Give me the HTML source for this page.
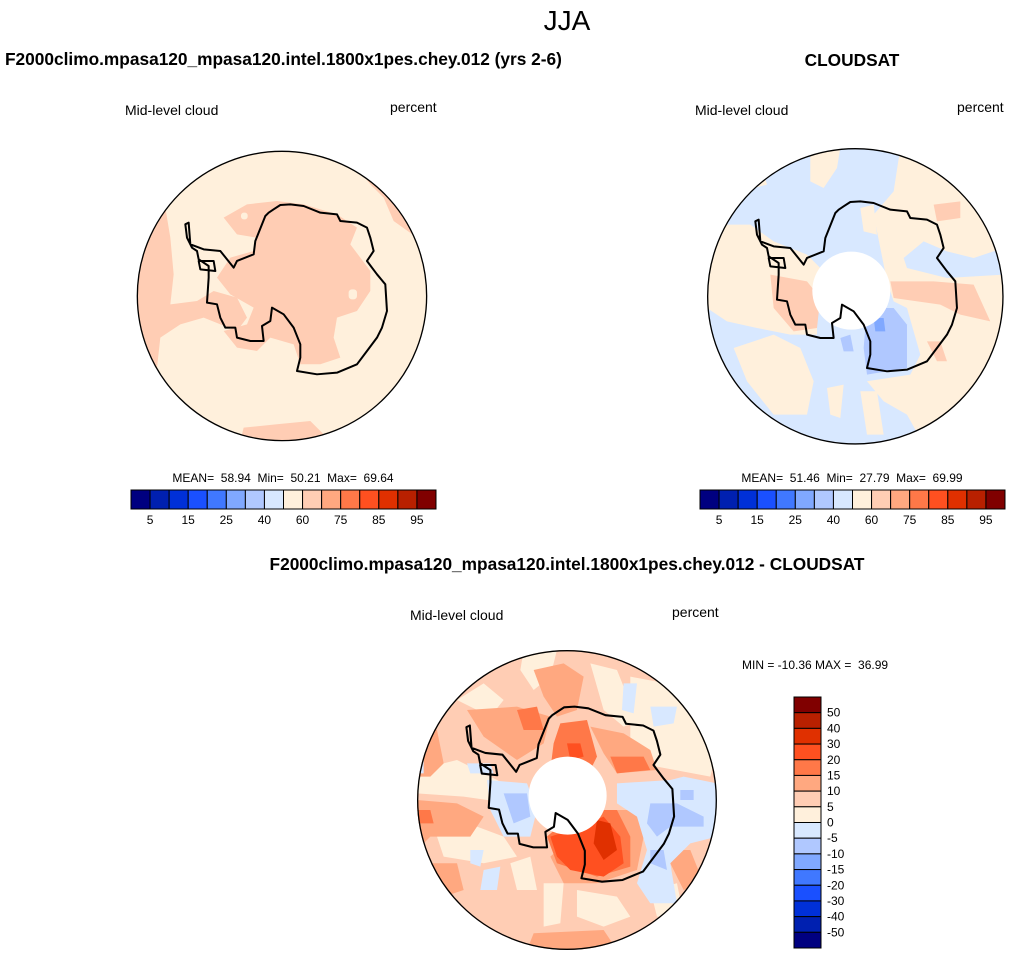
<!DOCTYPE html>
<html><head><meta charset="utf-8">
<style>
body{margin:0;background:#fff;}
svg{display:block;font-family:"Liberation Sans",Arial,sans-serif;}
text{white-space:pre;}
</style></head>
<body>
<svg id="fig" width="1014" height="959" viewBox="0 0 1014 959">
<defs>
  <clipPath id="c1"><circle cx="435" cy="435" r="435"/></clipPath>
  <clipPath id="c2"><circle cx="445" cy="445" r="444"/></clipPath>
  <clipPath id="c3"><circle cx="450" cy="450" r="450"/></clipPath>
  <path id="coast" d="M290,350 L300,330 L350,310 L355,270 L385,195 L395,185 L410,175 L430,162 L460,160 L500,165 L550,185 L600,190 L610,210 L660,215 L690,230 L700,260 L710,300 L690,330 L720,370 L745,400 L750,480 L735,530 L720,560 L690,600 L660,640 L600,665 L540,670 L480,660 L490,620 L490,580 L470,530 L440,490 L405,470 L400,510 L375,525 L380,570 L340,570 L300,560 L295,530 L265,530 L250,500 L240,460 L210,455 L215,380 L215,345 L185,325 L180,300 L165,290 L150,260 L145,220 L155,215 L160,280 L200,295 L250,300 Z M185,330 L230,330 L235,360 L190,355 Z" fill="none" stroke="#000" stroke-width="6" stroke-linejoin="round"/>
</defs>

<text x="567" y="30" font-size="28" text-anchor="middle">JJA</text>
<text x="5" y="65" font-size="17.3" font-weight="bold">F2000climo.mpasa120_mpasa120.intel.1800x1pes.chey.012 (yrs 2-6)</text>
<text x="852" y="66" font-size="17.3" font-weight="bold" text-anchor="middle">CLOUDSAT</text>
<text x="567" y="570" font-size="17.3" font-weight="bold" text-anchor="middle">F2000climo.mpasa120_mpasa120.intel.1800x1pes.chey.012 - CLOUDSAT</text>

<text x="125" y="115" font-size="14">Mid-level cloud</text>
<text x="390" y="112" font-size="14">percent</text>
<text x="695" y="115" font-size="14">Mid-level cloud</text>
<text x="957" y="112" font-size="14">percent</text>
<text x="410" y="620" font-size="14">Mid-level cloud</text>
<text x="672" y="617" font-size="14">percent</text>
<text x="742" y="669" font-size="12">MIN = -10.36 MAX =  36.99</text>

<!-- Panel 1 -->
<g transform="translate(137,151) scale(0.3333)">
  <g clip-path="url(#c1)">
    <rect width="870" height="870" fill="#fff0dc"/>
    <g fill="#ffcdb4">
      <path d="M0,150 L80,140 L100,260 L110,370 L100,460 L180,450 L230,420 L300,440 L330,500 L300,540 L200,500 L130,520 L70,560 L60,650 L0,640 Z"/>
      <path d="M260,200 L330,160 L420,150 L500,160 L600,190 L660,230 L640,280 L700,360 L700,420 L660,480 L600,500 L590,560 L610,620 L550,640 L490,640 L470,580 L400,560 L360,600 L300,590 L260,540 L330,520 L350,470 L280,430 L240,380 L280,320 L350,300 L360,260 L300,250 Z"/>
      <path d="M650,0 L760,0 L800,100 L830,170 L870,190 L870,300 L840,260 L770,210 L740,140 L700,100 L660,50 Z"/>
      <path d="M310,870 L320,830 L420,820 L520,810 L560,850 L560,870 Z"/>
    </g>
    <g fill="#fff0dc"><rect x="635" y="415" width="25" height="30" rx="10"/><rect x="312" y="185" width="20" height="20" rx="8"/></g>
  </g>
  <use href="#coast"/>
  <circle cx="435" cy="435" r="434" fill="none" stroke="#000" stroke-width="4"/>
</g>

<!-- Panel 2 -->
<g transform="translate(707,148) scale(0.3333)">
  <g clip-path="url(#c2)">
    <rect width="890" height="890" fill="#d8e8ff"/>
    <g fill="#fff0dc">
      <path d="M580,0 L890,0 L890,300 L800,330 L720,310 L650,280 L590,330 L600,360 L720,390 L890,380 L890,890 L650,890 L600,800 L530,760 L480,700 L610,680 L640,620 L600,480 L560,460 L540,400 L520,300 L500,200 L560,130 Z"/>
      <path d="M0,230 L130,230 L200,280 L300,320 L340,360 L330,500 L330,560 L250,560 L150,540 L60,520 L0,480 Z"/>
      <path d="M80,600 L200,560 L280,600 L320,700 L300,800 L200,800 L120,700 Z"/>
      <path d="M310,0 L400,0 L390,60 L350,120 L310,100 Z"/>
      <path d="M360,720 L410,710 L400,810 L370,800 Z"/>
      <path d="M460,730 L510,730 L530,860 L480,860 Z"/>
      <path d="M60,60 L160,40 L180,110 L100,130 Z"/>
      <path d="M460,180 L500,170 L510,260 L470,250 Z"/>
    </g>
    <g fill="#ffcdb4">
      <path d="M190,380 L300,400 L340,450 L330,540 L260,550 L200,480 Z"/>
      <path d="M550,400 L680,400 L800,410 L850,520 L760,500 L700,470 L560,450 Z"/>
      <path d="M680,170 L760,160 L760,210 L690,220 Z"/>
      <path d="M660,580 L700,580 L720,640 L690,640 Z"/>
    </g>
    <path d="M480,480 L560,480 L600,530 L600,660 L480,680 L470,600 Z" fill="#b0c8ff"/>
    <path d="M400,570 L430,560 L440,610 L410,610 Z" fill="#b0c8ff"/>
    <path d="M500,510 L530,510 L535,550 L505,550 Z" fill="#80a8ff"/>
  </g>
  <circle cx="433" cy="428" r="117" fill="#fff"/>
  <use href="#coast"/>
  <circle cx="445" cy="445" r="443" fill="none" stroke="#000" stroke-width="4"/>
</g>

<!-- Panel 3 -->
<g transform="translate(417,650) scale(0.3333)">
  <g clip-path="url(#c3)">
    <rect width="900" height="900" fill="#ffcdb4"/>
    <g fill="#fff0dc">
      <path d="M320,0 L420,0 L400,80 L350,120 L310,60 Z"/>
      <path d="M520,40 L600,60 L640,160 L700,200 L620,230 L560,180 Z"/>
      <path d="M640,80 L800,110 L860,200 L900,300 L880,380 L720,350 L640,300 Z"/>
      <path d="M0,360 L120,330 L220,380 L300,420 L280,460 L140,440 L0,430 Z"/>
      <path d="M60,560 L180,530 L260,560 L300,620 L200,640 L80,620 Z"/>
      <path d="M380,700 L440,700 L430,820 L380,830 Z"/>
      <path d="M480,720 L600,740 L640,800 L560,830 L480,800 Z"/>
      <path d="M120,150 L200,100 L260,150 L220,200 Z"/>
      <path d="M280,640 L340,620 L360,720 L300,720 Z"/>
      <path d="M700,720 L780,700 L800,800 L720,800 Z"/>
    </g>
    <g fill="#ffa880">
      <path d="M0,200 L60,240 L80,340 L40,380 L0,380 Z"/>
      <path d="M150,180 L300,170 L400,200 L380,280 L300,330 L200,260 Z"/>
      <path d="M350,60 L440,40 L500,80 L480,180 L420,200 L380,140 Z"/>
      <path d="M0,450 L120,460 L200,500 L160,560 L40,560 L0,600 Z"/>
      <path d="M520,230 L620,250 L700,300 L720,360 L600,370 L560,310 Z"/>
      <path d="M560,480 L660,480 L680,560 L660,660 L540,700 L440,700 L400,620 Z"/>
      <path d="M350,850 L560,840 L600,900 L330,900 Z"/>
      <path d="M40,640 L120,640 L140,720 L80,740 Z"/>
      <path d="M740,600 L820,600 L860,700 L800,720 Z"/>
    </g>
    <g fill="#ff7848">
      <path d="M430,220 L510,210 L540,320 L520,360 L400,360 L410,280 Z"/>
      <path d="M580,320 L680,320 L700,360 L600,370 Z"/>
      <path d="M480,480 L600,480 L640,560 L640,650 L540,680 L420,640 L390,560 Z"/>
      <path d="M300,180 L360,170 L380,240 L320,240 Z"/>
      <path d="M0,480 L40,480 L50,520 L0,520 Z"/>
    </g>
    <path d="M400,560 L490,530 L560,500 L610,560 L620,640 L560,680 L460,660 L420,620 Z" fill="#ff5020"/>
    <path d="M450,280 L490,280 L500,320 L460,330 Z" fill="#ff5020"/>
    <path d="M540,510 L580,520 L600,600 L560,630 L530,580 Z" fill="#e03000"/>
    <g fill="#d8e8ff">
      <path d="M600,400 L760,390 L800,380 L900,400 L900,560 L820,580 L760,640 L780,760 L700,760 L660,700 L690,600 L660,500 L600,460 Z"/>
      <path d="M210,390 L330,400 L360,480 L340,560 L260,560 L220,480 Z"/>
      <path d="M150,340 L220,340 L230,370 L160,370 Z"/>
      <path d="M620,100 L660,100 L650,190 L615,180 Z"/>
      <path d="M700,170 L780,170 L770,220 L710,230 Z"/>
      <path d="M160,600 L200,600 L190,650 L160,640 Z"/>
      <path d="M200,660 L250,650 L240,720 L190,720 Z"/>
      <path d="M0,330 L20,330 L20,370 L0,370 Z"/>
    </g>
    <g fill="#b0c8ff">
      <path d="M260,430 L330,430 L340,500 L290,520 Z"/>
      <path d="M700,460 L780,460 L860,500 L860,530 L760,530 L720,560 L690,520 Z"/>
      <path d="M790,420 L830,420 L830,450 L790,450 Z"/>
      <path d="M700,600 L740,600 L750,660 L700,640 Z"/>
    </g>
  </g>
  <circle cx="452" cy="437" r="117" fill="#fff"/>
  <g transform="translate(450,450) scale(1.03) translate(-438,-432)"><use href="#coast"/></g>
  <circle cx="450" cy="450" r="448" fill="none" stroke="#000" stroke-width="4"/>
</g>

<text x="283" y="482" font-size="12" text-anchor="middle">MEAN=  58.94  Min=  50.21  Max=  69.64</text>
<text x="852" y="482" font-size="12" text-anchor="middle">MEAN=  51.46  Min=  27.79  Max=  69.99</text>
<g id="cb1"></g>
<g id="cb2"></g>
<g id="cb3"></g>
</svg>
<script>
const levelColors = ["#000080","#0020b0","#0030d8","#1a50ff","#4078ff","#80a8ff","#b0c8ff","#d8e8ff","#fff0dc","#ffcdb4","#ffa880","#ff7848","#ff5020","#e03000","#b82000","#800000"];
const fieldTickLabels = ["5","15","25","40","60","75","85","95"];
const diffTickLabels = ["50","40","30","20","15","10","5","0","-5","-10","-15","-20","-30","-40","-50"];
const NS = "http://www.w3.org/2000/svg";
function mk(tag, attrs, parent){const e=document.createElementNS(NS,tag);for(const k in attrs)e.setAttribute(k,attrs[k]);parent.appendChild(e);return e;}
function hbar(id,x0,y0,w,h){
  const g=document.getElementById(id);const n=levelColors.length;const bw=w/n;
  levelColors.forEach((c,i)=>{const r=mk('rect',{x:x0+i*bw,y:y0,width:bw,height:h,fill:c,stroke:'#000','stroke-width':1},g);
    
    });
  fieldTickLabels.forEach((t,i)=>{const tx=mk('text',{x:x0+(2*i+1)*bw,y:y0+h+15,'font-size':12,'text-anchor':'middle'},g);tx.textContent=t;
    
    });
}
hbar('cb1',131,490,305,19);
hbar('cb2',700,490,305,19);
(function(){
  const g=document.getElementById('cb3');const n=levelColors.length;const x0=794,y0=697,w=27,H=251;const bh=H/n;
  for(let i=0;i<n;i++){const r=mk('rect',{x:x0,y:y0+i*bh,width:w,height:bh,fill:levelColors[n-1-i],stroke:'#000','stroke-width':1},g);
    
    }
  diffTickLabels.forEach((t,i)=>{const tx=mk('text',{x:x0+w+6,y:y0+(i+1)*bh+4,'font-size':12},g);tx.textContent=t;
    
    });
})();
</script>
</body></html>
